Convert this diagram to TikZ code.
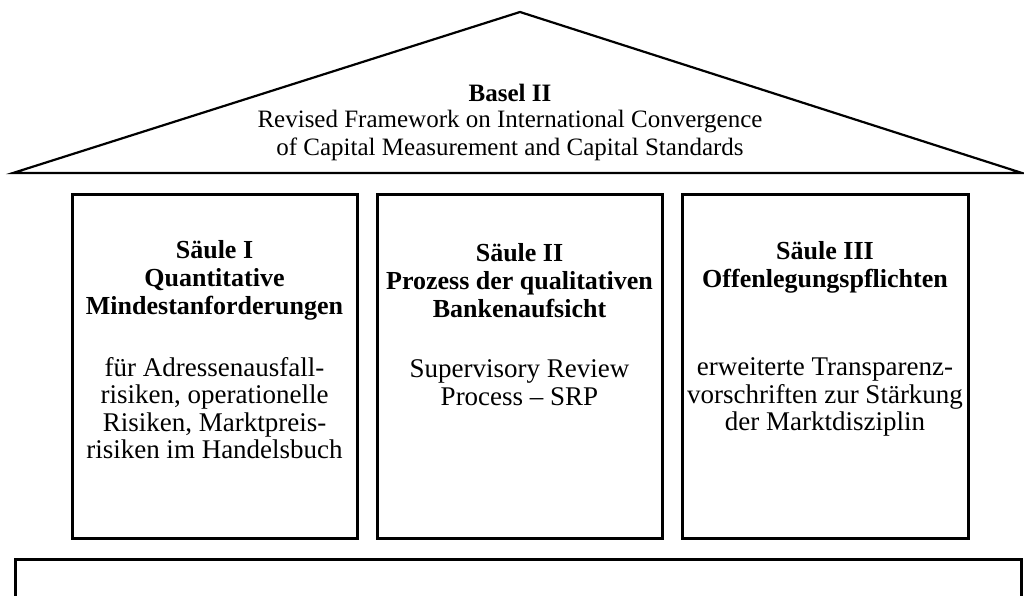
\documentclass[tikz,border=0pt]{standalone}
\usepackage{fontspec}
\setmainfont{Liberation Serif}
\begin{document}
\begin{tikzpicture}[x=1pt,y=-1pt,
  roofline/.style={line width=2.2pt, line join=miter},
  pillarbox/.style={line width=3pt},
  basebox/.style={line width=3pt},
  roofhead/.style={align=center, inner sep=0pt, font=\fontsize{25}{29}\selectfont\bfseries},
  rooftext/.style={align=center, inner sep=0pt, font=\fontsize{25}{27.5}\selectfont},
  head/.style={align=center, inner sep=0pt, font=\fontsize{26}{28}\selectfont\bfseries},
  body/.style={align=center, inner sep=0pt, font=\fontsize{27}{27.5}\selectfont}]
\useasboundingbox (0,0) rectangle (1024,596);

% roof
\coordinate (apex) at (520,12);
\coordinate (eaveL) at (13,173);
\coordinate (eaveR) at (1022,173);
\draw[roofline] (eaveL) -- (apex) -- (eaveR) -- cycle;
\node[roofhead] (basel) at (510,93) {Basel II};
\node[rooftext] (framework) at (510,135.5)
  {Revised Framework on International Convergence\\
   of Capital Measurement and Capital Standards};

% pillars
\draw[pillarbox] (72,194) rectangle (357,538);
\draw[pillarbox] (377,194) rectangle (662,538);
\draw[pillarbox] (682,194) rectangle (968,538);

% pillar I
\node[head] (h1) at (214.5,280.5) {Säule I\\Quantitative\\Mindestanforderungen};
\node[body] (b1) at (214.5,408) {für Adressenausfall-\\risiken, operationelle\\Risiken, Marktpreis-\\risiken im Handelsbuch};

% pillar II
\node[head] (h2) at (519.5,281) {Säule II\\Prozess der qualitativen\\Bankenaufsicht};
\node[body] (b2) at (519.5,382.5) {Supervisory Review\\Process -- SRP};

% pillar III
\node[head] (h3) at (825,267) {Säule III\\Offenlegungspflichten};
\node[body] (b3) at (825,397) {erweiterte Transparenz-\\vorschriften zur Stärkung\\der Marktdisziplin};

% foundation
\draw[basebox] (15,600) -- (15,559) -- (1021,559) -- (1021,600);
\end{tikzpicture}
\end{document}
